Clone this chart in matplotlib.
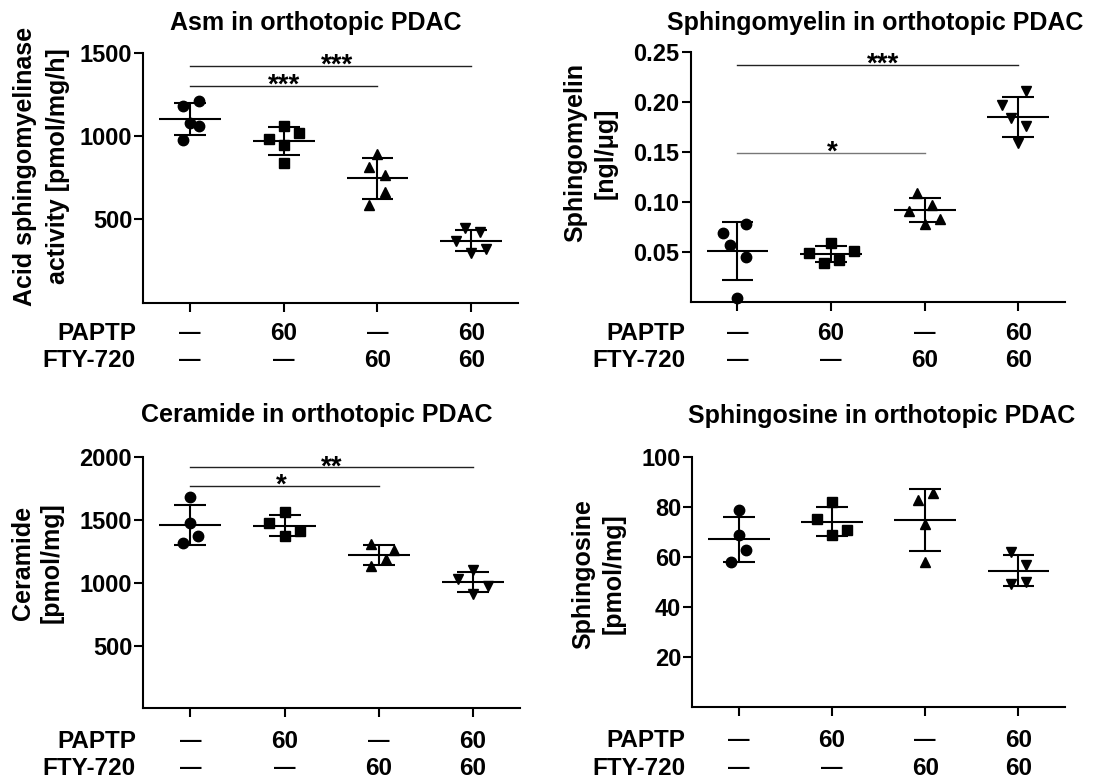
import numpy as np
import matplotlib
matplotlib.use("Agg")
import matplotlib.pyplot as plt
from matplotlib.transforms import blended_transform_factory

plt.rcParams['font.family'] = ['Liberation Sans', 'DejaVu Sans']
plt.rcParams['font.weight'] = 'bold'

W, H = 1093, 782

# ---------------- data ----------------
groups = ["g1", "g2", "g3", "g4"]
paptp_row = ["\u2014", "60", "\u2014", "60"]
fty_row = ["\u2014", "\u2014", "60", "60"]

asm_vals = [[1180, 1212, 1076, 1060, 976],
            [980, 1060, 1020, 946, 840],
            [892, 816, 766, 666, 586],
            [446, 425, 371, 321, 297]]
sm_vals = [[0.0687, 0.0778, 0.0570, 0.0443, 0.0035],
           [0.0584, 0.0483, 0.0510, 0.0416, 0.0383],
           [0.1085, 0.0972, 0.0911, 0.0828, 0.0778],
           [0.2105, 0.1965, 0.1832, 0.1755, 0.1588]]
cer_vals = [[1681, 1476, 1370, 1316],
            [1561, 1476, 1410, 1370],
            [1309, 1261, 1190, 1131],
            [1105, 1027, 974, 913]]
sph_vals = [[78.9, 68.9, 62.9, 57.9],
            [81.9, 75.2, 70.9, 68.7],
            [85.6, 82.7, 73.2, 57.9],
            [62.2, 56.8, 49.1, 49.8]]

# significance comparisons: (group a, group b, bar height, label)
asm_sig = [(0, 2, 1302, "***"), (0, 3, 1422, "***")]
sm_sig = [(0, 2, 0.1487, "*"), (0, 3, 0.2366, "***")]
cer_sig = [(0, 2, 1773, "*"), (0, 3, 1920, "**")]
sph_sig = []

asm_ticks = [500, 1000, 1500]
sm_ticks = [0.05, 0.10, 0.15, 0.20, 0.25]
cer_ticks = [500, 1000, 1500, 2000]
sph_ticks = [20, 40, 60, 80, 100]

# ---------------- layout / style (positions only) ----------------
asm_off = [[-0.08, 0.09, 0, 0.09, -0.08], [-0.16, 0, 0.16, 0, 0],
           [0, -0.09, 0.08, 0.08, -0.09], [-0.07, 0.09, -0.16, 0.16, 0]]
sm_off = [[-0.15, 0.09, -0.08, 0.09, 0], [0, -0.24, 0.24, 0.08, -0.08],
          [-0.08, 0.08, -0.17, 0.16, 0], [0.08, -0.17, -0.08, 0.08, 0]]
cer_off = [[0, 0, 0.08, -0.08], [0, -0.16, 0.16, 0],
           [-0.08, 0.16, 0.08, -0.08], [0, -0.16, 0.16, 0]]
sph_off = [[0, 0, 0.08, -0.08], [0, -0.16, 0.16, 0],
           [0.08, -0.08, 0, 0], [-0.08, 0.08, -0.08, 0.08]]
markers = ['o', 's', '^', 'v']
msizes = [7.5, 7.2, 7.8, 7.8]

fig = plt.figure(figsize=(W / 100, H / 100), dpi=100)


def px_axes(l, r, t, b):
    return fig.add_axes([l / W, 1 - b / H, (r - l) / W, (b - t) / H])


def fy(ypx):
    return 1 - ypx / H


def panel(box, vals, offs, sig, ylim, ticks, fmt, title, title_xy,
          ylab, ylab_x, ylab_y, row_y, row_lab_x, star_dx, sig_colors):
    ax = px_axes(*box)
    for i, (v, o) in enumerate(zip(vals, offs)):
        v = np.asarray(v, float)
        x = i + np.asarray(o)
        ax.plot(x, v, linestyle='none', marker=markers[i], ms=msizes[i],
                color='black', zorder=3, clip_on=False)
        m = v.mean()
        sd = v.std(ddof=1)
        ax.hlines(m, i - 0.33, i + 0.33, color='black', lw=1.5, zorder=4)
        ax.vlines(i, m - sd, m + sd, color='black', lw=1.5, zorder=4)
        ax.hlines([m - sd, m + sd], i - 0.17, i + 0.17, color='black',
                  lw=1.5, zorder=4)
    for k, (a, b, h, lab) in enumerate(sig):
        ax.plot([a, b], [h, h], color=sig_colors[k], lw=1.0, clip_on=False,
                zorder=2)
        ax.annotate(lab, xy=((a + b) / 2 + star_dx[k], h), xytext=(0, -5),
                    textcoords='offset points', ha='center', va='baseline',
                    fontsize=20, fontweight='bold', annotation_clip=False)
    ax.set_xlim(-0.5, 3.5)
    ax.set_ylim(*ylim)
    ax.set_yticks(ticks)
    ax.set_yticklabels([fmt.format(t) for t in ticks])
    ax.set_xticks(range(len(groups)))
    ax.set_xticklabels([])
    for s in ['top', 'right']:
        ax.spines[s].set_visible(False)
    for s in ['left', 'bottom']:
        ax.spines[s].set_linewidth(1.5)
    ax.tick_params(axis='both', direction='out', length=6.5, width=1.5)
    ax.tick_params(axis='y', labelsize=17, pad=1.5)
    for lab in ax.get_yticklabels():
        lab.set_fontweight('bold')
    ax.patch.set_alpha(0)
    # title
    fig.text(title_xy[0] / W, fy(title_xy[1]), title, ha='center',
             va='baseline', fontsize=18, fontweight='bold')
    # y labels (two lines)
    for line, xx in zip(ylab, ylab_x):
        fig.text(xx / W, fy(ylab_y), line, rotation=90, ha='center',
                 va='center', fontsize=18, fontweight='bold')
    # treatment rows
    tr = blended_transform_factory(ax.transData, fig.transFigure)
    for name, row, yy in zip(["PAPTP", "FTY-720"], [paptp_row, fty_row],
                             row_y):
        fig.text(row_lab_x / W, fy(yy), name, ha='right', va='baseline',
                 fontsize=17.5, fontweight='bold')
        for i, s in enumerate(row):
            if s == "\u2014":
                ax.text(i, fy(yy - 1), s, transform=tr, ha='center',
                        va='baseline', fontsize=15.5, fontweight='bold')
            else:
                ax.text(i, fy(yy), s, transform=tr, ha='center',
                        va='baseline', fontsize=17.5, fontweight='bold')
    return ax


panel((143.3, 518, 52.7, 302.7), asm_vals, asm_off, asm_sig, (0, 1500),
      asm_ticks, "{:.0f}", "Asm in orthotopic PDAC", (316, 30),
      ["Acid sphingomyelinase", "activity [pmol/mg/h]"], [25, 58], 166,
      (339.5, 367), 136, [0, 0.07], ['#222222', '#222222'])

panel((690.7, 1065, 51.7, 301.7), sm_vals, sm_off, sm_sig, (0, 0.25),
      sm_ticks, "{:.2f}", "Sphingomyelin in orthotopic PDAC", (875.5, 30),
      ["Sphingomyelin", "[ngl/\u03bcg]"], [575, 606], 153,
      (339.5, 367), 685, [0.01, 0.06], ['#777777', '#222222'])

panel((143.3, 520, 457.3, 708.3), cer_vals, cer_off, cer_sig, (0, 2000),
      cer_ticks, "{:.0f}", "Ceramide in orthotopic PDAC", (317, 422),
      ["Ceramide", "[pmol/mg]"], [23.5, 52], 563,
      (747.5, 775), 136, [-0.03, 0.0], ['#222222', '#222222'])

panel((692.3, 1065, 457.3, 706.7), sph_vals, sph_off, sph_sig, (0, 100),
      sph_ticks, "{:.0f}", "Sphingosine in orthotopic PDAC", (881.5, 422.5),
      ["Sphingosine", "[pmol/mg]"], [583, 614], 574,
      (747, 775), 685, [], [])

fig.savefig("out.png", dpi=100, facecolor='white')
